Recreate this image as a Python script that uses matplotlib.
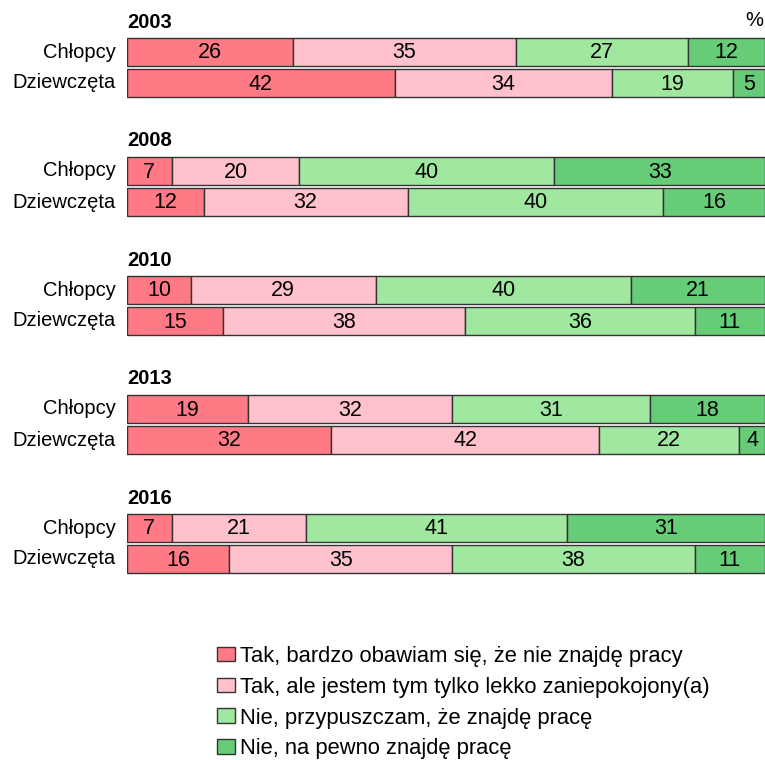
import matplotlib.pyplot as plt
from matplotlib.patches import Patch

plt.rcParams['font.family'] = ['Liberation Sans', 'DejaVu Sans']

# Data
years = ["2003", "2008", "2010", "2013", "2016"]
groups = ["Chłopcy", "Dziewczęta"]
categories = [
    "Tak, bardzo obawiam się, że nie znajdę pracy",
    "Tak, ale jestem tym tylko lekko zaniepokojony(a)",
    "Nie, przypuszczam, że znajdę pracę",
    "Nie, na pewno znajdę pracę",
]
boys = [
    [26, 35, 27, 12],
    [7, 20, 40, 33],
    [10, 29, 40, 21],
    [19, 32, 31, 18],
    [7, 21, 41, 31],
]
girls = [
    [42, 34, 19, 5],
    [12, 32, 40, 16],
    [15, 38, 36, 11],
    [32, 42, 22, 4],
    [16, 35, 38, 11],
]
colors = ["#ff7a85", "#ffc2cc", "#a0e8a0", "#66cc77"]

W, H = 765, 760
fig = plt.figure(figsize=(W / 100, H / 100), dpi=100)
# axes spans pixel area so data y == pixel y
ax = fig.add_axes([127 / W, 1 - 600 / H, 1 - 127 / W, 600 / H])
ax.set_xlim(0, 100)
ax.set_ylim(600, 0)
ax.axis("off")

fs = 14.5
bar_h = 28
for g, year in enumerate(years):
    base = 52 + 119 * g
    ax.text(0, base - 30, year, fontsize=fs, fontweight="bold", va="center", ha="left")
    for r, vals in enumerate([boys[g], girls[g]]):
        y = base + 31 * r
        left = 0
        for c, v in enumerate(vals):
            ax.barh(y, v, left=left, height=bar_h, color=colors[c],
                    edgecolor="#333333", linewidth=1)
            ax.text(left + v / 2, y + 1, str(v), ha="center", va="center", fontsize=15.5)
            left += v
        ax.text(-1.8, y, groups[r], ha="right", va="center", fontsize=fs, clip_on=False)

fig.text(745 / W, 1 - 20 / H, "%", fontsize=fs, ha="left", va="center")

handles = [Patch(facecolor=col, edgecolor="#333333", linewidth=1) for col in colors]
fig.legend(handles, categories, loc="upper left", bbox_to_anchor=(208 / W, 1 - 637 / H),
           frameon=False, fontsize=15.8, handlelength=0.85, handleheight=0.65,
           handletextpad=0.2, labelspacing=0.45, borderaxespad=0)

fig.savefig("out.png", dpi=100)
